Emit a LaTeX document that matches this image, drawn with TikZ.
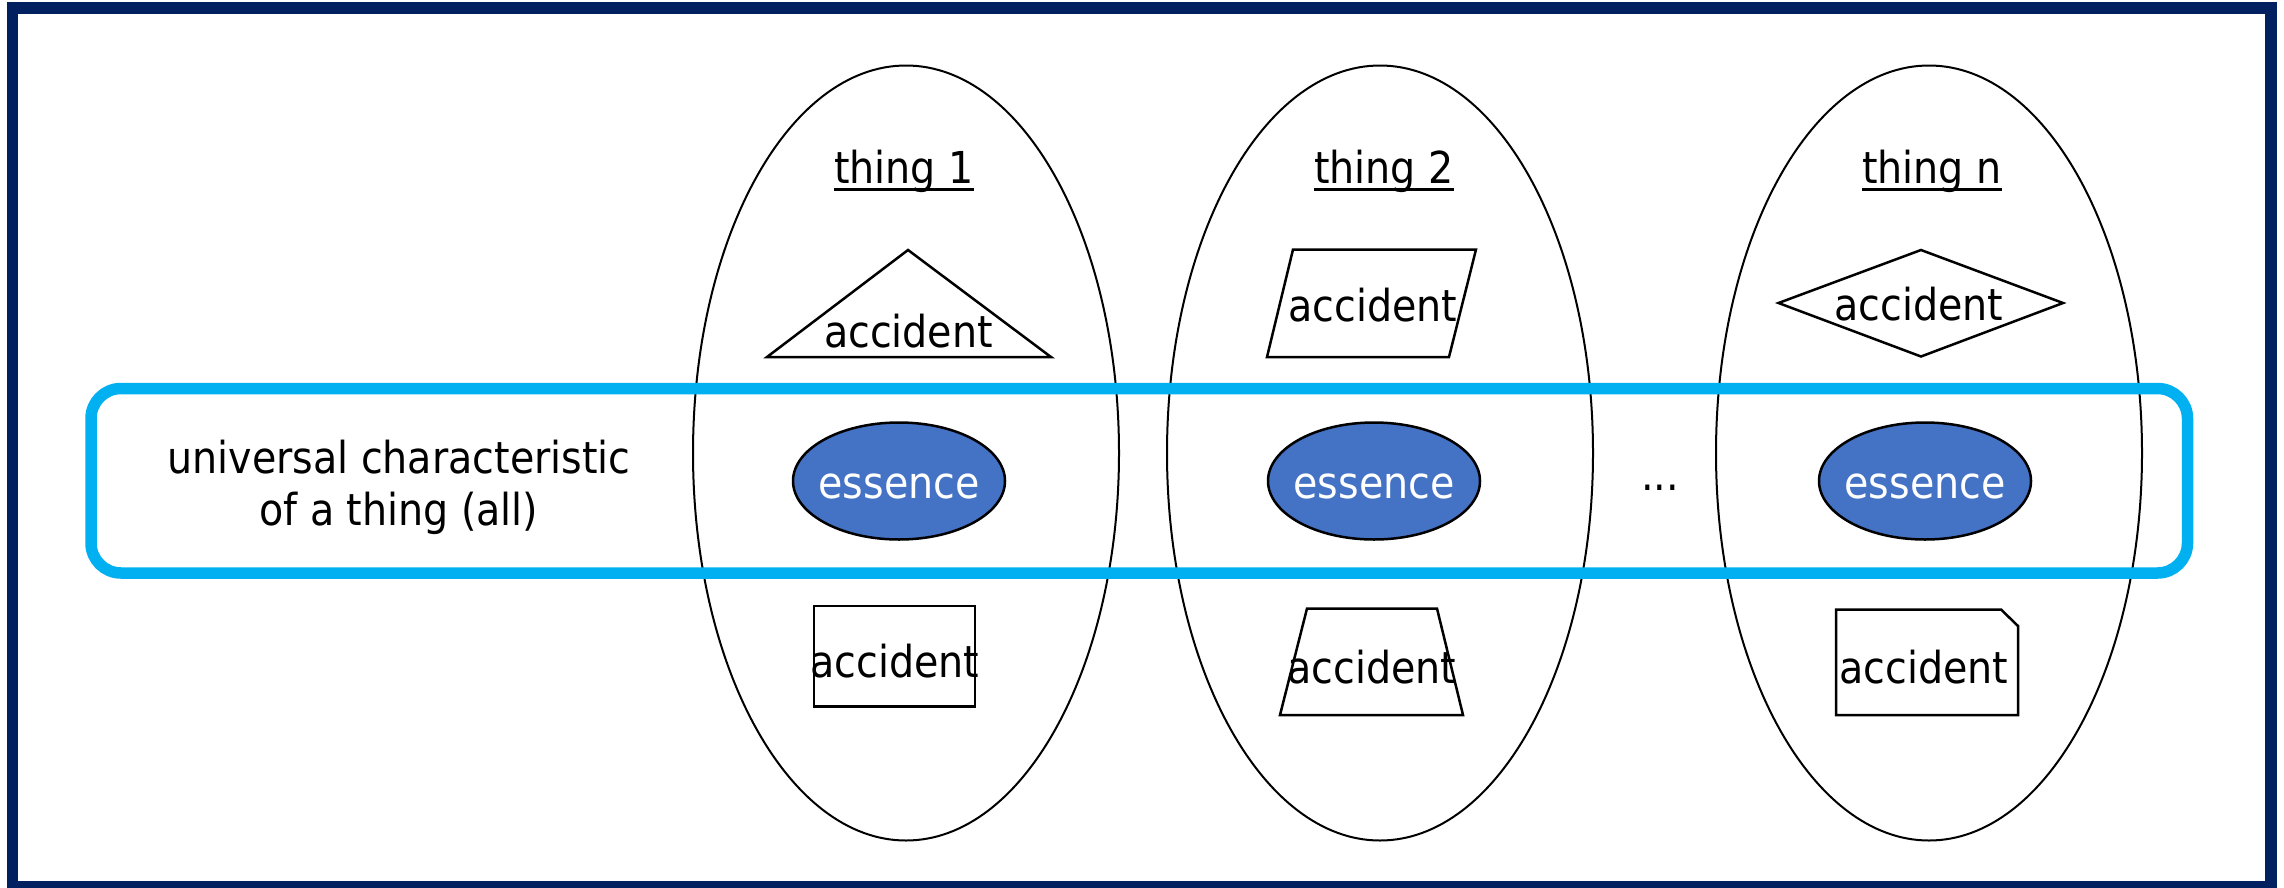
\documentclass[tikz,border=0pt]{standalone}
\usepackage{fontspec}
\IfFontExistsTF{DejaVu Sans Condensed}{\setmainfont{DejaVu Sans Condensed}}{\setmainfont{DejaVu Sans}[FakeStretch=0.9]}
\definecolor{frameblue}{HTML}{002060}
\definecolor{boxcyan}{HTML}{00B0F0}
\definecolor{essblue}{HTML}{4472C4}
\tikzset{
  lbl/.style={inner sep=0pt, anchor=base, font=\fontsize{44}{50}\selectfont},
  thingell/.style={draw=black, line width=2pt},
  accshape/.style={draw=black, line width=2.5pt, line join=miter},
  essell/.style={ellipse, draw=black, line width=2.5pt, fill=essblue, minimum width=212pt, minimum height=117pt, inner sep=0pt},
  ulinestyle/.style={line width=2.5pt}
}
\usetikzlibrary{shapes.geometric}
\begin{document}
\begin{tikzpicture}[x=1pt,y=-1pt]
\useasboundingbox (0,0) rectangle (2284,887);
\fill[white] (0,0) rectangle (2284,887);
% outer frame
\draw[frameblue, line width=11.5pt] (12.5,8) rectangle (2271,887);
% big ellipses
\draw[thingell] (906,453) ellipse [x radius=213, y radius=387.5];
\draw[thingell] (1380,453) ellipse [x radius=213, y radius=387.5];
\draw[thingell] (1929,453) ellipse [x radius=213, y radius=387.5];
% cyan rounded box
\draw[boxcyan, line width=11.5pt, rounded corners=30pt] (91,388.5) rectangle (2187.5,573);
% titles
\node[lbl] (t1) at (904,183) {thing 1};
\node[lbl] (t2) at (1384,183) {thing 2};
\node[lbl] (tn) at (1932,183) {thing n};
\foreach \t in {t1,t2,tn}{
  \draw[ulinestyle] ([yshift=-6.5pt]\t.base west) -- ([yshift=-6.5pt]\t.base east);
}
% top accidents
\draw[accshape] (767,357) -- (908,250) -- (1051,357) -- cycle;
\node[lbl] (a1) at (908.5,347) {accident};
\draw[accshape] (1293,249.5) -- (1476,249.5) -- (1449,357) -- (1267,357) -- cycle;
\node[lbl] (a2) at (1373,321) {accident};
\draw[accshape] (1778.5,303) -- (1921,250) -- (2063,303) -- (1921,356.5) -- cycle;
\node[lbl] (a3) at (1919,320) {accident};
% essences
\node[essell] (e1) at (899,481) {};
\node[essell] (e2) at (1374,481) {};
\node[essell] (e3) at (1925,481) {};
\node[lbl, text=white] (e1t) at (899,498) {essence};
\node[lbl, text=white] (e2t) at (1374,498) {essence};
\node[lbl, text=white] (e3t) at (1925,498) {essence};
\node[lbl] (dots) at (1660,490) {...};
% left label
\node[lbl] (u1) at (399,473) {universal characteristic};
\node[lbl] (u2) at (399,525) {of a thing (all)};
% bottom accidents
\draw[accshape] (814,606) rectangle (975,706.5);
\node[lbl] (b1) at (895,677) {accident};
\draw[accshape] (1307,608.5) -- (1437,608.5) -- (1463,715) -- (1280,715) -- cycle;
\node[lbl] (b2) at (1372,683) {accident};
\draw[accshape] (1836,609.5) -- (2001,609.5) -- (2018,626) -- (2018,715) -- (1836,715) -- cycle;
\node[lbl] (b3) at (1924,683) {accident};
\end{tikzpicture}
\end{document}
